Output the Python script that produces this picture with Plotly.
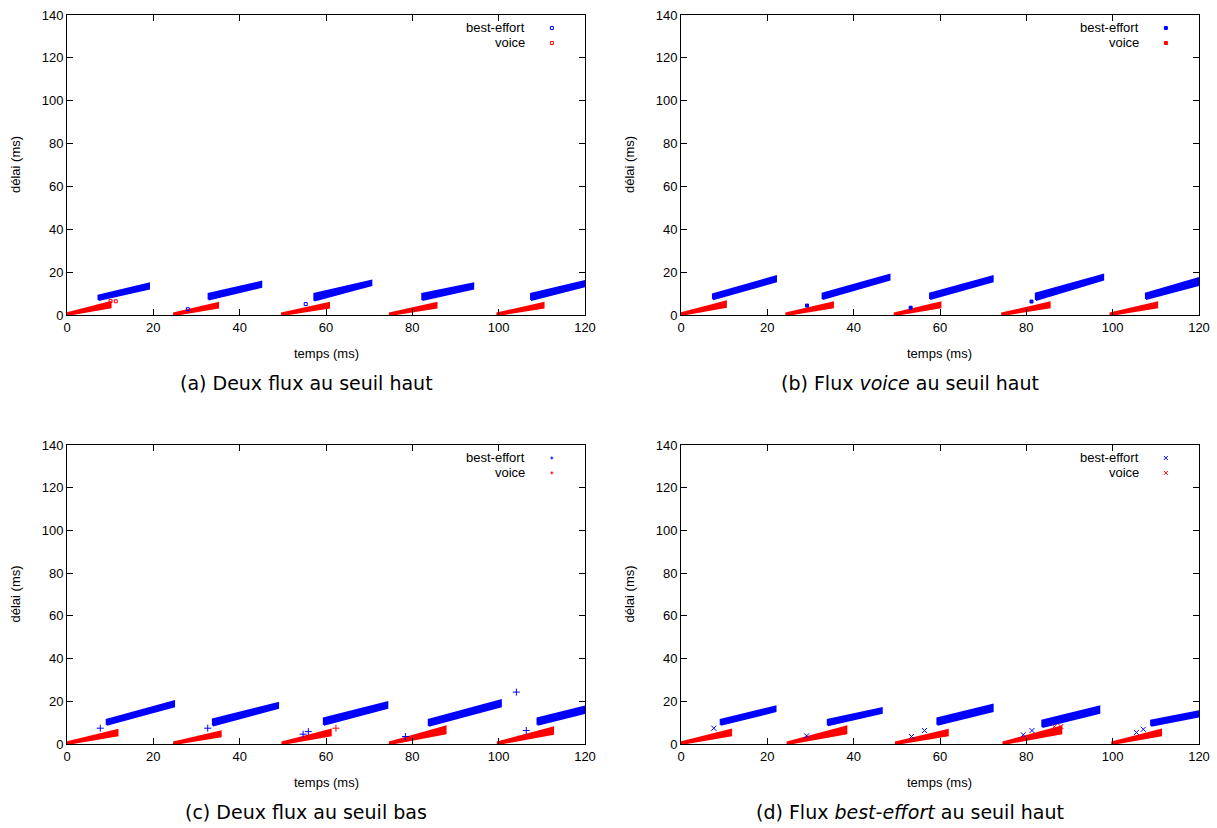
import plotly.graph_objects as go

# ---------------- data ----------------
panels = ["a", "b", "c", "d"]

# voice bursts: start time, end time, upper / lower delay at end (ms)
voice_start = {
    "a": [0, 24.8, 49.8, 74.8, 99.7],
    "b": [0, 24.4, 49.5, 74.4, 99.5],
    "c": [0, 24.8, 49.9, 74.8, 99.8],
    "d": [0, 24.7, 49.8, 74.7, 99.9],
}
voice_end = {
    "a": [10.1, 35.0, 60.7, 85.6, 110.4],
    "b": [10.4, 35.2, 60.1, 85.4, 110.3],
    "c": [11.7, 35.6, 61.1, 87.7, 112.6],
    "d": [11.6, 38.3, 61.8, 88.1, 111.2],
}
voice_end_hi = {
    "a": [6.0, 5.6, 5.6, 5.6, 5.6],
    "b": [6.3, 5.8, 5.8, 5.8, 5.8],
    "c": [6.6, 5.8, 6.6, 8.2, 7.7],
    "d": [6.6, 8.2, 6.6, 8.2, 6.6],
}
voice_end_lo = {
    "a": [3.6, 3.4, 3.4, 3.4, 3.4],
    "b": [3.8, 3.5, 3.5, 3.5, 3.5],
    "c": [4.0, 3.5, 4.0, 5.0, 4.7],
    "d": [4.0, 5.0, 4.0, 5.0, 4.0],
}

# best-effort bursts
be_start = {
    "a": [7.3, 32.8, 57.3, 82.3, 107.5],
    "b": [7.4, 32.8, 57.7, 82.2, 107.7],
    "c": [9.2, 33.8, 59.5, 83.8, 109.0],
    "d": [9.2, 34.0, 59.4, 83.7, 108.9],
}
be_start_lo = {
    "a": [7.0, 7.2, 6.7, 7.0, 7.0],
    "b": [7.3, 7.5, 7.5, 7.0, 7.5],
    "c": [9.0, 8.7, 9.0, 8.5, 9.0],
    "d": [9.0, 8.8, 9.0, 8.0, 8.5],
}
be_start_hi = {
    "a": [9.1, 9.9, 9.9, 9.9, 9.9],
    "b": [9.7, 10.0, 10.0, 10.0, 10.0],
    "c": [11.3, 11.6, 12.0, 11.3, 12.0],
    "d": [11.3, 11.3, 12.0, 11.0, 11.0],
}
be_end = {
    "a": [19.0, 45.0, 70.5, 94.1, 120],
    "b": [22.0, 48.3, 72.2, 97.8, 120],
    "c": [24.8, 48.9, 74.2, 100.5, 120],
    "d": [21.9, 46.5, 72.2, 96.9, 120],
}
be_end_lo = {
    "a": [12.3, 13.1, 13.9, 12.3, 13.4],
    "b": [15.6, 16.4, 15.6, 16.4, 14.0],
    "c": [17.6, 16.9, 16.9, 17.6, 14.5],
    "d": [15.3, 14.5, 15.3, 14.5, 12.9],
}
be_end_hi = {
    "a": [14.7, 15.5, 16.0, 14.7, 15.8],
    "b": [18.0, 18.8, 18.0, 18.8, 17.2],
    "c": [20.0, 19.2, 19.5, 20.5, 17.6],
    "d": [17.6, 16.8, 18.4, 17.6, 15.3],
}

# isolated points
be_out_x = {
    "a": [28.0, 55.3],
    "b": [29.2, 53.2, 81.2],
    "c": [104.1, 7.7, 32.6, 54.7, 55.9, 78.4, 106.4],
    "d": [7.6, 29.1, 53.4, 56.4, 79.3, 81.3, 105.5, 107.1],
}
be_out_y = {
    "a": [2.7, 5.1],
    "b": [4.4, 3.4, 6.3],
    "c": [24.3, 7.4, 7.4, 4.6, 5.8, 3.5, 6.3],
    "d": [7.4, 3.8, 3.5, 6.3, 4.3, 6.3, 5.4, 6.9],
}
voice_out_x = {"a": [10.1, 11.3], "b": [], "c": [62.3], "d": [86.5, 88.0]}
voice_out_y = {"a": [6.5, 6.4], "b": [], "c": [7.4], "d": [8.2, 8.2]}

captions = {
    "a": "(a) Deux flux au seuil haut",
    "b": "(b) Flux <i>voice</i> au seuil haut",
    "c": "(c) Deux flux au seuil bas",
    "d": "(d) Flux <i>best-effort</i> au seuil haut",
}
series_names = ["best-effort", "voice"]
x_ticks = [0, 20, 40, 60, 80, 100, 120]
y_ticks = [0, 20, 40, 60, 80, 100, 120, 140]

# ---------------- layout / style ----------------
W, H = 1217, 828
BLUE = "#0000ff"
RED = "#ff0000"
symbols = {"a": "square-open", "b": "square", "c": "cross-thin", "d": "x-thin"}

# pixel geometry of plotting areas
px_left = {"a": 67, "b": 681, "c": 67, "d": 681}
px_right = {"a": 585, "b": 1199, "c": 585, "d": 1199}
px_top = {"a": 15, "b": 15, "c": 445, "d": 445}
px_bot = {"a": 315, "b": 315, "c": 744, "d": 744}
cap_x = {"a": 306, "b": 910, "c": 306, "d": 910}
cap_y = {"a": 383, "b": 383, "c": 812, "d": 812}

FONT = "Liberation Sans, Arial, sans-serif"
CAPFONT = "DejaVu Sans, sans-serif"

fig = go.Figure()
annotations = []
shapes = []
layout_axes = {}

for i, p in enumerate(panels):
    n = i + 1
    xa = "x" if n == 1 else f"x{n}"
    ya = "y" if n == 1 else f"y{n}"
    xdom = [px_left[p] / W, px_right[p] / W]
    ydom = [1 - px_bot[p] / H, 1 - px_top[p] / H]
    axis_common = dict(
        showgrid=False, zeroline=False, showline=True, linecolor="black",
        linewidth=1, mirror="ticks", ticks="inside", ticklen=6,
        tickcolor="black", automargin=False,
        tickfont=dict(family=FONT, size=13, color="black"),
    )
    layout_axes["xaxis" if n == 1 else f"xaxis{n}"] = dict(
        domain=xdom, range=[0, 120], tickvals=x_ticks, anchor=ya, **axis_common)
    layout_axes["yaxis" if n == 1 else f"yaxis{n}"] = dict(
        domain=ydom, range=[0, 140], tickvals=y_ticks, anchor=xa, **axis_common)

    sym = symbols[p]
    # best-effort bands
    for ts, sl, sh, te, el, eh in zip(be_start[p], be_start_lo[p], be_start_hi[p],
                                      be_end[p], be_end_lo[p], be_end_hi[p]):
        fig.add_trace(go.Scatter(
            x=[ts, te, te, ts, ts], y=[sl, el, eh, sh, sl],
            mode="lines", fill="toself", fillcolor=BLUE,
            line=dict(color=BLUE, width=2), showlegend=False,
            hoverinfo="skip", xaxis=xa, yaxis=ya))
    # voice bands
    for ts, te, el, eh in zip(voice_start[p], voice_end[p],
                              voice_end_lo[p], voice_end_hi[p]):
        fig.add_trace(go.Scatter(
            x=[ts, te, te, ts, ts], y=[0, el, eh, 0.8, 0],
            mode="lines", fill="toself", fillcolor=RED,
            line=dict(color=RED, width=2), showlegend=False,
            hoverinfo="skip", xaxis=xa, yaxis=ya))
    # isolated points
    msize = 3 if p in "ab" else 5
    fig.add_trace(go.Scatter(
        x=be_out_x[p], y=be_out_y[p], mode="markers",
        marker=dict(color=BLUE, symbol=sym, size=msize,
                    line=dict(width=1, color=BLUE)),
        showlegend=False, name=series_names[0], xaxis=xa, yaxis=ya))
    fig.add_trace(go.Scatter(
        x=voice_out_x[p], y=voice_out_y[p], mode="markers",
        marker=dict(color=RED, symbol=sym, size=msize,
                    line=dict(width=1, color=RED)),
        showlegend=False, name=series_names[1], xaxis=xa, yaxis=ya))

    # axis titles
    xc = (px_left[p] + px_right[p]) / 2
    annotations.append(dict(
        text="temps (ms)", x=xc / W, y=1 - (px_bot[p] + 38) / H,
        xref="paper", yref="paper", showarrow=False, xanchor="center",
        yanchor="middle", font=dict(family=FONT, size=13, color="black")))
    annotations.append(dict(
        text="délai (ms)", x=(px_left[p] - 52) / W,
        y=1 - (px_top[p] + px_bot[p]) / 2 / H,
        xref="paper", yref="paper", showarrow=False, textangle=-90,
        xanchor="center", yanchor="middle",
        font=dict(family=FONT, size=13, color="black")))
    # caption
    annotations.append(dict(
        text=captions[p], x=cap_x[p] / W, y=1 - cap_y[p] / H,
        xref="paper", yref="paper", showarrow=False, xanchor="center",
        yanchor="middle", font=dict(family=CAPFONT, size=19, color="black")))

    # key (gnuplot style: text right-aligned, sample to its right)
    for k, (name, col) in enumerate(zip(series_names, [BLUE, RED])):
        ty = 1 - (13 + 15 * k) / 300
        annotations.append(dict(
            text=name, x=0.888, y=ty, xref=f"{xa} domain", yref=f"{ya} domain",
            showarrow=False, xanchor="right", yanchor="middle",
            font=dict(family=FONT, size=13, color="black")))
        mx = 0.936
        if p in "ab":
            shapes.append(dict(
                type="rect", xref=f"{xa} domain", yref=f"{ya} domain",
                xsizemode="pixel", ysizemode="pixel", xanchor=mx, yanchor=ty,
                x0=-1.5, x1=1.5, y0=-1.5, y1=1.5,
                line=dict(color=col, width=1),
                fillcolor=("white" if p == "a" else col)))
        elif p == "c":
            for seg in [(-1.5, 1.5, 0, 0), (0, 0, -1.5, 1.5)]:
                shapes.append(dict(
                    type="line", xref=f"{xa} domain", yref=f"{ya} domain",
                    xsizemode="pixel", ysizemode="pixel", xanchor=mx, yanchor=ty,
                    x0=seg[0], x1=seg[1], y0=seg[2], y1=seg[3],
                    line=dict(color=col, width=1)))
        else:
            for seg in [(-2, 2, -2, 2), (-2, 2, 2, -2)]:
                shapes.append(dict(
                    type="line", xref=f"{xa} domain", yref=f"{ya} domain",
                    xsizemode="pixel", ysizemode="pixel", xanchor=mx, yanchor=ty,
                    x0=seg[0], x1=seg[1], y0=seg[2], y1=seg[3],
                    line=dict(color=col, width=1)))

fig.update_layout(
    width=W, height=H, margin=dict(l=0, r=0, t=0, b=0, autoexpand=False),
    paper_bgcolor="white", plot_bgcolor="white", showlegend=False,
    annotations=annotations, shapes=shapes,
    font=dict(family=FONT, size=13, color="black"),
    **layout_axes,
)

fig.write_html(
    "out.html",
    config={"displayModeBar": False},
    post_script="document.body.style.margin='0';document.body.style.overflow='hidden';",
)
